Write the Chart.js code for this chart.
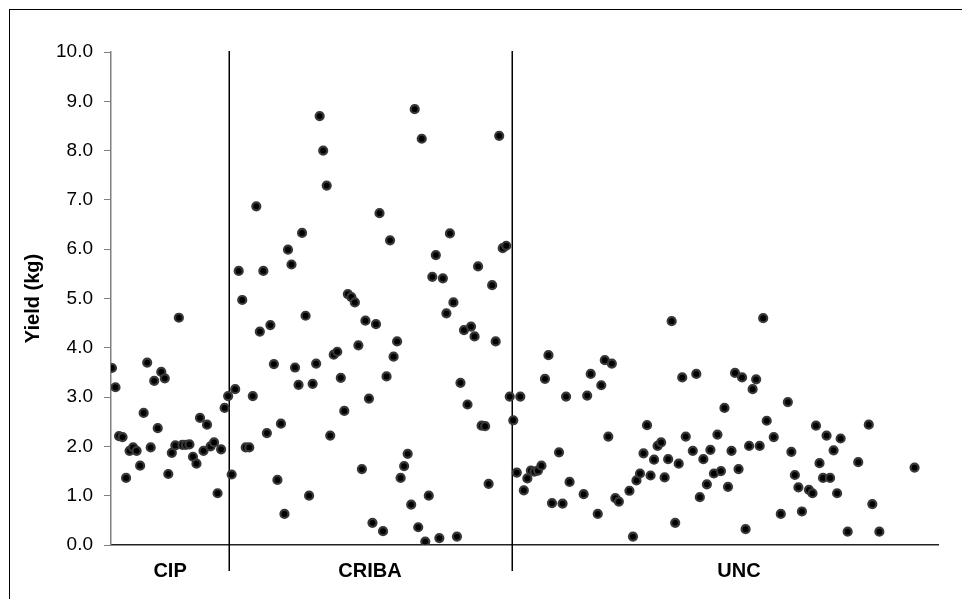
<!DOCTYPE html>
<html>
<head>
<meta charset="utf-8">
<title>Yield by group</title>
<script src="https://cdn.jsdelivr.net/npm/chart.js@4"></script>
<style>
  html, body { margin: 0; padding: 0; background: #fff; }
  #wrap { position: relative; width: 962px; height: 599px; }
  #frame { position: absolute; left: 9px; top: 9px; right: 0; bottom: 0; border-left: 1px solid #000; border-top: 1px solid #000; pointer-events: none; }
</style>
</head>
<body>
<div id="wrap">
  <canvas id="chart" width="962" height="599"></canvas>
  <div id="frame"></div>
</div>
<script>
// groups along the x axis, with the sample number each name sits under
const groups = ['CIP', 'CRIBA', 'UNC'];
const groupCentre = [17.5, 74.3, 179.1];

// sample numbers where each consecutive group starts
const cipStart = 1;
const cribaStart = 35;

// yields (kg)
const cipYield = [3.59, 3.20, 2.21, 2.19, 1.36, 1.91, 1.98, 1.91, 1.61, 2.68,
  3.70, 1.98, 3.33, 2.37, 3.51, 3.38, 1.44, 1.87, 2.02, 4.61,
  2.03, 2.03, 2.04, 1.79, 1.65, 2.58, 1.91, 2.44, 2.00, 2.08,
  1.05, 1.94, 2.78, 3.02];

const cribaYield = [1.43, 3.16, 5.56, 4.97, 1.98, 1.98, 3.02, 6.87, 4.33, 5.56,
  2.27, 4.46, 3.67, 1.32, 2.46, 0.63, 5.99, 5.69, 3.60, 3.25,
  6.33, 4.65, 1.00, 3.27, 3.68, 8.70, 8.00, 7.29, 2.22, 3.86,
  3.92, 3.39, 2.72, 5.09, 5.03, 4.92, 4.05, 1.54, 4.55, 2.97,
  0.45, 4.48, 6.73, 0.28, 3.42, 6.18, 3.82, 4.13, 1.36, 1.60,
  1.85, 0.82, 8.84, 0.36, 8.24, 0.07, 1.00, 5.44, 5.88, 0.14,
  5.41, 4.70, 6.32, 4.92, 0.17, 3.29, 4.36, 2.85, 4.43, 4.23,
  5.65, 2.42, 2.41, 1.24, 5.27, 4.13, 8.30, 6.02, 6.07, 3.01];

// UNC has some missing samples, so its sample numbers are listed
const uncSample = [115, 116, 117, 118, 119, 120, 121, 122, 123, 124,
  125, 126, 128, 129, 130, 131, 135, 136, 137, 139,
  140, 141, 142, 143, 144, 145, 148, 149, 150, 151,
  152, 153, 154, 155, 156, 157, 158, 159, 160, 161,
  162, 163, 164, 166, 167, 168, 169, 170, 171, 172,
  173, 174, 175, 176, 177, 178, 179, 180, 181, 182,
  183, 184, 185, 186, 187, 189, 191, 193, 194, 195,
  196, 197, 199, 200, 201, 202, 203, 204, 205, 206,
  207, 208, 210, 213, 216, 217, 219, 229];
const uncYield = [2.53, 1.47, 3.01, 1.11, 1.35, 1.51, 1.49, 1.51, 1.61, 3.37,
  3.85, 0.85, 1.88, 0.84, 3.01, 1.28, 1.03, 3.03, 3.47, 0.63,
  3.24, 3.75, 2.20, 3.68, 0.95, 0.88, 1.10, 0.17, 1.31, 1.45,
  1.86, 2.43, 1.41, 1.73, 2.01, 2.08, 1.37, 1.74, 4.54, 0.45,
  1.65, 3.40, 2.20, 1.91, 3.47, 0.97, 1.74, 1.23, 1.93, 1.45,
  2.24, 1.50, 2.78, 1.18, 1.91, 3.49, 1.54, 3.40, 0.32, 2.01,
  3.16, 3.36, 2.01, 4.60, 2.52, 2.19, 0.63, 2.90, 1.89, 1.42,
  1.17, 0.68, 1.12, 1.05, 2.42, 1.66, 1.36, 2.22, 1.36, 1.92,
  1.05, 2.16, 0.27, 1.68, 2.44, 0.83, 0.27, 1.57];

// group separators (sample axis) and axis ticks
const separators = [34.2, 114.5];
const yTicks = [0, 1, 2, 3, 4, 5, 6, 7, 8, 9, 10];
const xRange = [0.72, 235.66];

const toPoints = (start, ys) => ys.map((y, i) => ({ x: start + i, y }));
const points = [
  ...toPoints(cipStart, cipYield),
  ...toPoints(cribaStart, cribaYield),
  ...uncSample.map((x, i) => ({ x, y: uncYield[i] }))
];

const FONT = "'Liberation Sans', Arial, sans-serif";

// separators and group names under the axis
const groupPlugin = {
  id: 'groupPlugin',
  beforeDatasetsDraw(chart) {
    const { ctx, chartArea, scales: { x } } = chart;
    ctx.save();
    ctx.strokeStyle = '#000';
    ctx.lineWidth = 1.5;
    separators.forEach(s => {
      const px = Math.round(x.getPixelForValue(s)) + 0.25;
      ctx.beginPath();
      ctx.moveTo(px, chartArea.top - 1);
      ctx.lineTo(px, chartArea.bottom + 26);
      ctx.stroke();
    });
    ctx.restore();
  },
  afterDraw(chart) {
    const { ctx, chartArea, scales: { x } } = chart;
    ctx.save();
    ctx.fillStyle = '#000';
    ctx.font = 'bold 20px ' + FONT;
    ctx.textAlign = 'center';
    ctx.textBaseline = 'middle';
    groups.forEach((g, i) => {
      ctx.fillText(g, x.getPixelForValue(groupCentre[i]), chartArea.bottom + 26);
    });
    ctx.restore();
  }
};

new Chart(document.getElementById('chart'), {
  type: 'scatter',
  data: {
    datasets: [{
      label: 'Yield (kg)',
      data: points,
      pointRadius: 4,
      pointHoverRadius: 4,
      pointBorderWidth: 2.2,
      pointBackgroundColor: '#000',
      pointBorderColor: '#383838'
    }]
  },
  options: {
    responsive: false,
    animation: false,
    events: [],
    layout: { padding: { left: 10, top: 52, right: 24, bottom: 54 } },
    plugins: { legend: { display: false }, tooltip: { enabled: false } },
    scales: {
      x: {
        type: 'linear',
        min: xRange[0],
        max: xRange[1],
        ticks: { display: false },
        grid: { display: false },
        border: { display: true, color: '#222', width: 1.5 },
        afterFit: s => { s.height = 0; }
      },
      y: {
        min: 0,
        max: 10,
        afterBuildTicks: s => { s.ticks = yTicks.map(v => ({ value: v })); },
        ticks: {
          color: '#000',
          padding: 11,
          font: { family: FONT, size: 19 },
          callback: v => v.toFixed(1)
        },
        grid: { drawOnChartArea: false, drawTicks: true, tickLength: 7, color: '#808080' },
        border: { display: true, color: '#808080', width: 1.5 },
        title: {
          display: true,
          text: 'Yield (kg)',
          color: '#000',
          padding: { top: 11 },
          font: { family: FONT, size: 20, weight: 'bold' }
        },
        afterFit: s => { s.width = 101; }
      }
    }
  },
  plugins: [groupPlugin]
});
</script>
</body>
</html>
